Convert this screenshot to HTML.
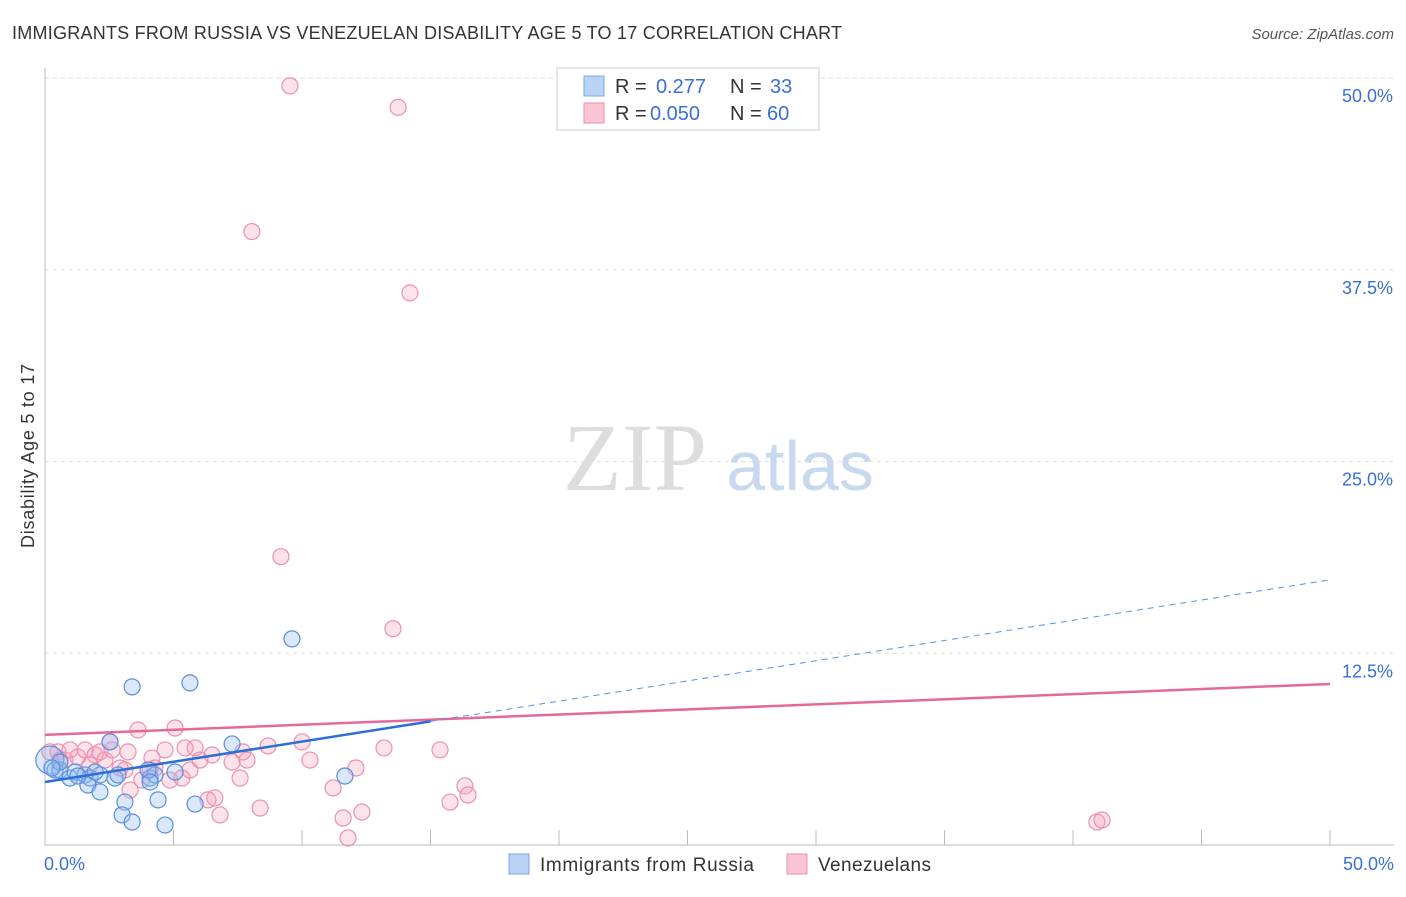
<!DOCTYPE html>
<html><head><meta charset="utf-8"><style>
body{margin:0;background:#fff;font-family:"Liberation Sans",sans-serif}
</style></head><body>
<svg width="1406" height="892" xmlns="http://www.w3.org/2000/svg">
<text x="12" y="39" font-size="18" fill="#333" textLength="830">IMMIGRANTS FROM RUSSIA VS VENEZUELAN DISABILITY AGE 5 TO 17 CORRELATION CHART</text>
<text x="1394" y="39" font-size="15" fill="#555" font-style="italic" text-anchor="end">Source: ZipAtlas.com</text>
<g id="grid"></g>
<text x="635" y="490" font-size="96" fill="#ddd" font-family="Liberation Serif,serif" text-anchor="middle">ZIP</text>
<text x="800" y="490" font-size="70" fill="#c8d8ee" text-anchor="middle">atlas</text>
<g id="pts"></g>
<g id="trend"></g>
<text x="34" y="456" font-size="18" fill="#333" transform="rotate(-90 34 456)" text-anchor="middle" textLength="184">Disability Age 5 to 17</text>
<text x="44" y="870" font-size="18" fill="#3a6fd8">0.0%</text>
<text x="1394" y="870" font-size="18" fill="#3a6fd8" text-anchor="end">50.0%</text>
<g>
<rect x="557" y="68" width="262" height="62" fill="#fff" stroke="#ccc"/>
<rect x="584" y="76" width="20" height="20" fill="#b9d3f6" stroke="#7aa4e0"/>
<rect x="584" y="103" width="20" height="20" fill="#f9c4d4" stroke="#ea8fac"/>
<text x="615" y="93" font-size="20" fill="#333">R = <tspan fill="#3a6fd8" x="656">0.277</tspan><tspan x="730">N = </tspan><tspan fill="#3a6fd8" x="770">33</tspan></text>
<text x="615" y="120" font-size="20" fill="#333">R = <tspan fill="#3a6fd8" x="650">0.050</tspan><tspan x="730">N = </tspan><tspan fill="#3a6fd8" x="767">60</tspan></text>
</g>
<g>
<rect x="509" y="854" width="20" height="20" fill="#b9d3f6" stroke="#7aa4e0"/>
<text x="540" y="871" font-size="19" fill="#333" textLength="214">Immigrants from Russia</text>
<rect x="787" y="854" width="20" height="20" fill="#f9c4d4" stroke="#ea8fac"/>
<text x="818" y="871" font-size="19" fill="#333" textLength="113">Venezuelans</text>
</g>
</svg>
<script>
const yTicks=[12.5,25,37.5,50];
const yTickLabels=["12.5%","25.0%","37.5%","50.0%"];
const blueX=[0.19,0.39,0.58,0.97,1.17,1.56,1.75,2.14,1.67,2.14,2.53,2.72,2.84,3.11,3.00,3.39,3.39,4.09,4.28,4.01,4.40,4.67,5.06,5.64,5.84,7.28,9.61,11.67,0.58,1.28,1.95,4.09,0.27];
const blueY=[5.54,4.89,4.89,4.37,4.76,4.57,4.37,4.57,3.91,3.46,6.72,4.37,4.57,2.80,1.96,1.50,10.31,4.37,4.57,4.89,2.94,1.30,4.76,10.57,2.67,6.59,13.44,4.50,5.41,4.50,4.76,4.11,5.02];
const pinkX=[9.53,13.74,8.05,14.20,9.18,13.54,0.19,0.51,0.78,0.97,1.28,1.56,1.95,2.14,2.33,2.53,2.61,2.92,3.31,3.23,3.62,3.77,4.16,4.28,4.67,4.86,5.06,5.33,5.45,5.64,5.84,6.03,6.34,6.50,6.61,6.81,7.28,7.59,7.70,7.86,8.37,8.68,10.00,10.31,11.21,11.60,11.79,12.10,12.33,13.19,15.37,15.76,16.34,16.46,40.93,41.13,0.58,1.75,3.11,4.09];
const pinkY=[49.5,48.1,40.0,36.0,18.8,14.1,6.07,6.07,5.54,6.20,5.74,6.20,5.87,6.07,5.54,6.72,6.20,5.02,3.59,6.07,7.50,4.24,5.67,5.02,6.20,4.24,7.63,4.37,6.33,4.89,6.33,5.54,2.94,5.87,3.07,1.96,5.41,4.37,6.07,5.54,2.41,6.46,6.72,5.54,3.72,1.76,0.46,5.02,2.15,6.33,6.20,2.80,3.85,3.26,1.50,1.63,5.54,5.22,4.89,4.89];
const pinkTrend=[7.18,10.50];
const blueTrend=[4.11,17.29];
const NS="http://www.w3.org/2000/svg";
const X=v=>45+v*25.7, Y=v=>845-v*15.336;
function mk(t,a,p){const e=document.createElementNS(NS,t);for(const k in a)e.setAttribute(k,a[k]);p.appendChild(e);return e;}
const g=document.getElementById('grid');
yTicks.forEach((t,i)=>{
 const l=mk('line',{x1:45,x2:1394,y1:Y(t),y2:Y(t),stroke:'#ddd','stroke-dasharray':'4,4'},g);
 
 
 const tx=mk('text',{x:1393,y:Y(t)+24,'font-size':18,fill:'#3a6fd8','text-anchor':'end'},g);
 tx.textContent=yTickLabels[i];
 
 
});
const ax=mk('path',{d:'M45 68V845H1394',fill:'none',stroke:'#bbb'},g);


for(let i=1;i<=10;i++){const t=mk('line',{x1:X(i*5),x2:X(i*5),y1:830,y2:845,stroke:'#bbb'},g);
 
 }
const p=document.getElementById('pts');
pinkX.forEach((x,i)=>{const c=mk('circle',{cx:X(x),cy:Y(pinkY[i]),r:8,fill:'rgba(244,160,188,0.3)',stroke:'#ec8fae','stroke-width':1.2},p);
 
 });
blueX.forEach((x,i)=>{const c=mk('circle',{cx:X(x),cy:Y(blueY[i]),r:i==0?14:8,fill:'rgba(150,190,240,0.35)',stroke:'#5a8fdc','stroke-width':1.2},p);
 
 });
const tr=document.getElementById('trend');
const bAt=v=>blueTrend[0]+(blueTrend[1]-blueTrend[0])*v/50;
let l1=mk('line',{x1:X(0),y1:Y(pinkTrend[0]),x2:X(50),y2:Y(pinkTrend[1]),stroke:'#e4699a','stroke-width':2.5},tr);


let l2=mk('line',{x1:X(0),y1:Y(bAt(0)),x2:X(15),y2:Y(bAt(15)),stroke:'#2a6fd6','stroke-width':2.5},tr);


let l3=mk('line',{x1:X(15),y1:Y(bAt(15)),x2:X(50),y2:Y(bAt(50)),stroke:'#5a8fdc','stroke-width':1,'stroke-dasharray':'6,5'},tr);


</script>
</body></html>
